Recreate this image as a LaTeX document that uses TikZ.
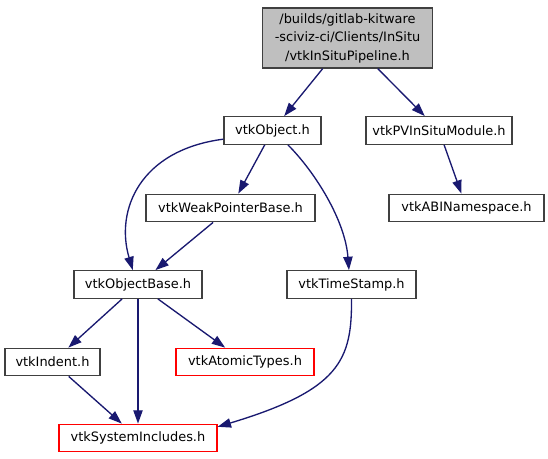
\documentclass[tikz,border=0pt]{standalone}
\usepackage{fontspec}
\setmainfont{DejaVu Sans}
\usetikzlibrary{arrows.meta}
\definecolor{edgeblue}{HTML}{191970}
\definecolor{boxgray}{HTML}{404040}
\definecolor{rootfill}{HTML}{BFBFBF}
\definecolor{boxred}{HTML}{FF0000}
\tikzset{
  box/.style={draw=boxgray, line width=1pt, fill=white, inner sep=0pt,
    minimum height=20.6pt, font=\fontsize{9.7pt}{13.9pt}\selectfont, align=center},
  rootbox/.style={box, fill=rootfill, minimum height=45pt},
  redbox/.style={box, draw=boxred},
  edge/.style={draw=edgeblue, line width=1pt, -{Triangle[length=10pt,width=7pt]}}
}
\begin{document}
\begin{tikzpicture}[x=0.75pt,y=-0.75pt]
\useasboundingbox (0,0) rectangle (548,459);
\node[rootbox, minimum width=127.5pt] (root) at (347.5,38) {/builds/gitlab-kitware\\-sciviz-ci/Clients/InSitu\\/vtkInSituPipeline.h};
\node[box, minimum width=72.75pt] (obj) at (272.5,130.5) {vtkObject.h};
\node[box, minimum width=109.5pt] (pv) at (439,130.5) {vtkPVInSituModule.h};
\node[box, minimum width=116.25pt] (abi) at (466.5,208) {vtkABINamespace.h};
\node[box, minimum width=126.75pt] (wpb) at (230.5,208) {vtkWeakPointerBase.h};
\node[box, minimum width=96pt] (ob) at (138,284.5) {vtkObjectBase.h};
\node[box, minimum width=96.75pt] (ts) at (351.5,284.5) {vtkTimeStamp.h};
\node[box, minimum width=71.25pt] (ind) at (52.5,362) {vtkIndent.h};
\node[redbox, minimum width=103.5pt] (at) at (245,362) {vtkAtomicTypes.h};
\node[redbox, minimum width=118.5pt] (si) at (138,438) {vtkSystemIncludes.h};

\draw[edge] (root) -- (obj);
\draw[edge] (root) -- (pv);
\draw[edge] (obj) -- (wpb);
\draw[edge] (obj.190) .. controls (140,150) and (115,210) .. (ob.110);
\draw[edge] (obj.-43) .. controls (315,172) and (345,220) .. (ts.100);
\draw[edge] (pv) -- (abi);
\draw[edge] (wpb) -- (ob);
\draw[edge] (ob) -- (ind);
\draw[edge] (ob) -- (si);
\draw[edge] (ob) -- (at);
\draw[edge] (ind) -- (si);
\draw[edge] (ts.south) .. controls (352,360) and (340,390) .. (si.8);
\end{tikzpicture}
\end{document}
